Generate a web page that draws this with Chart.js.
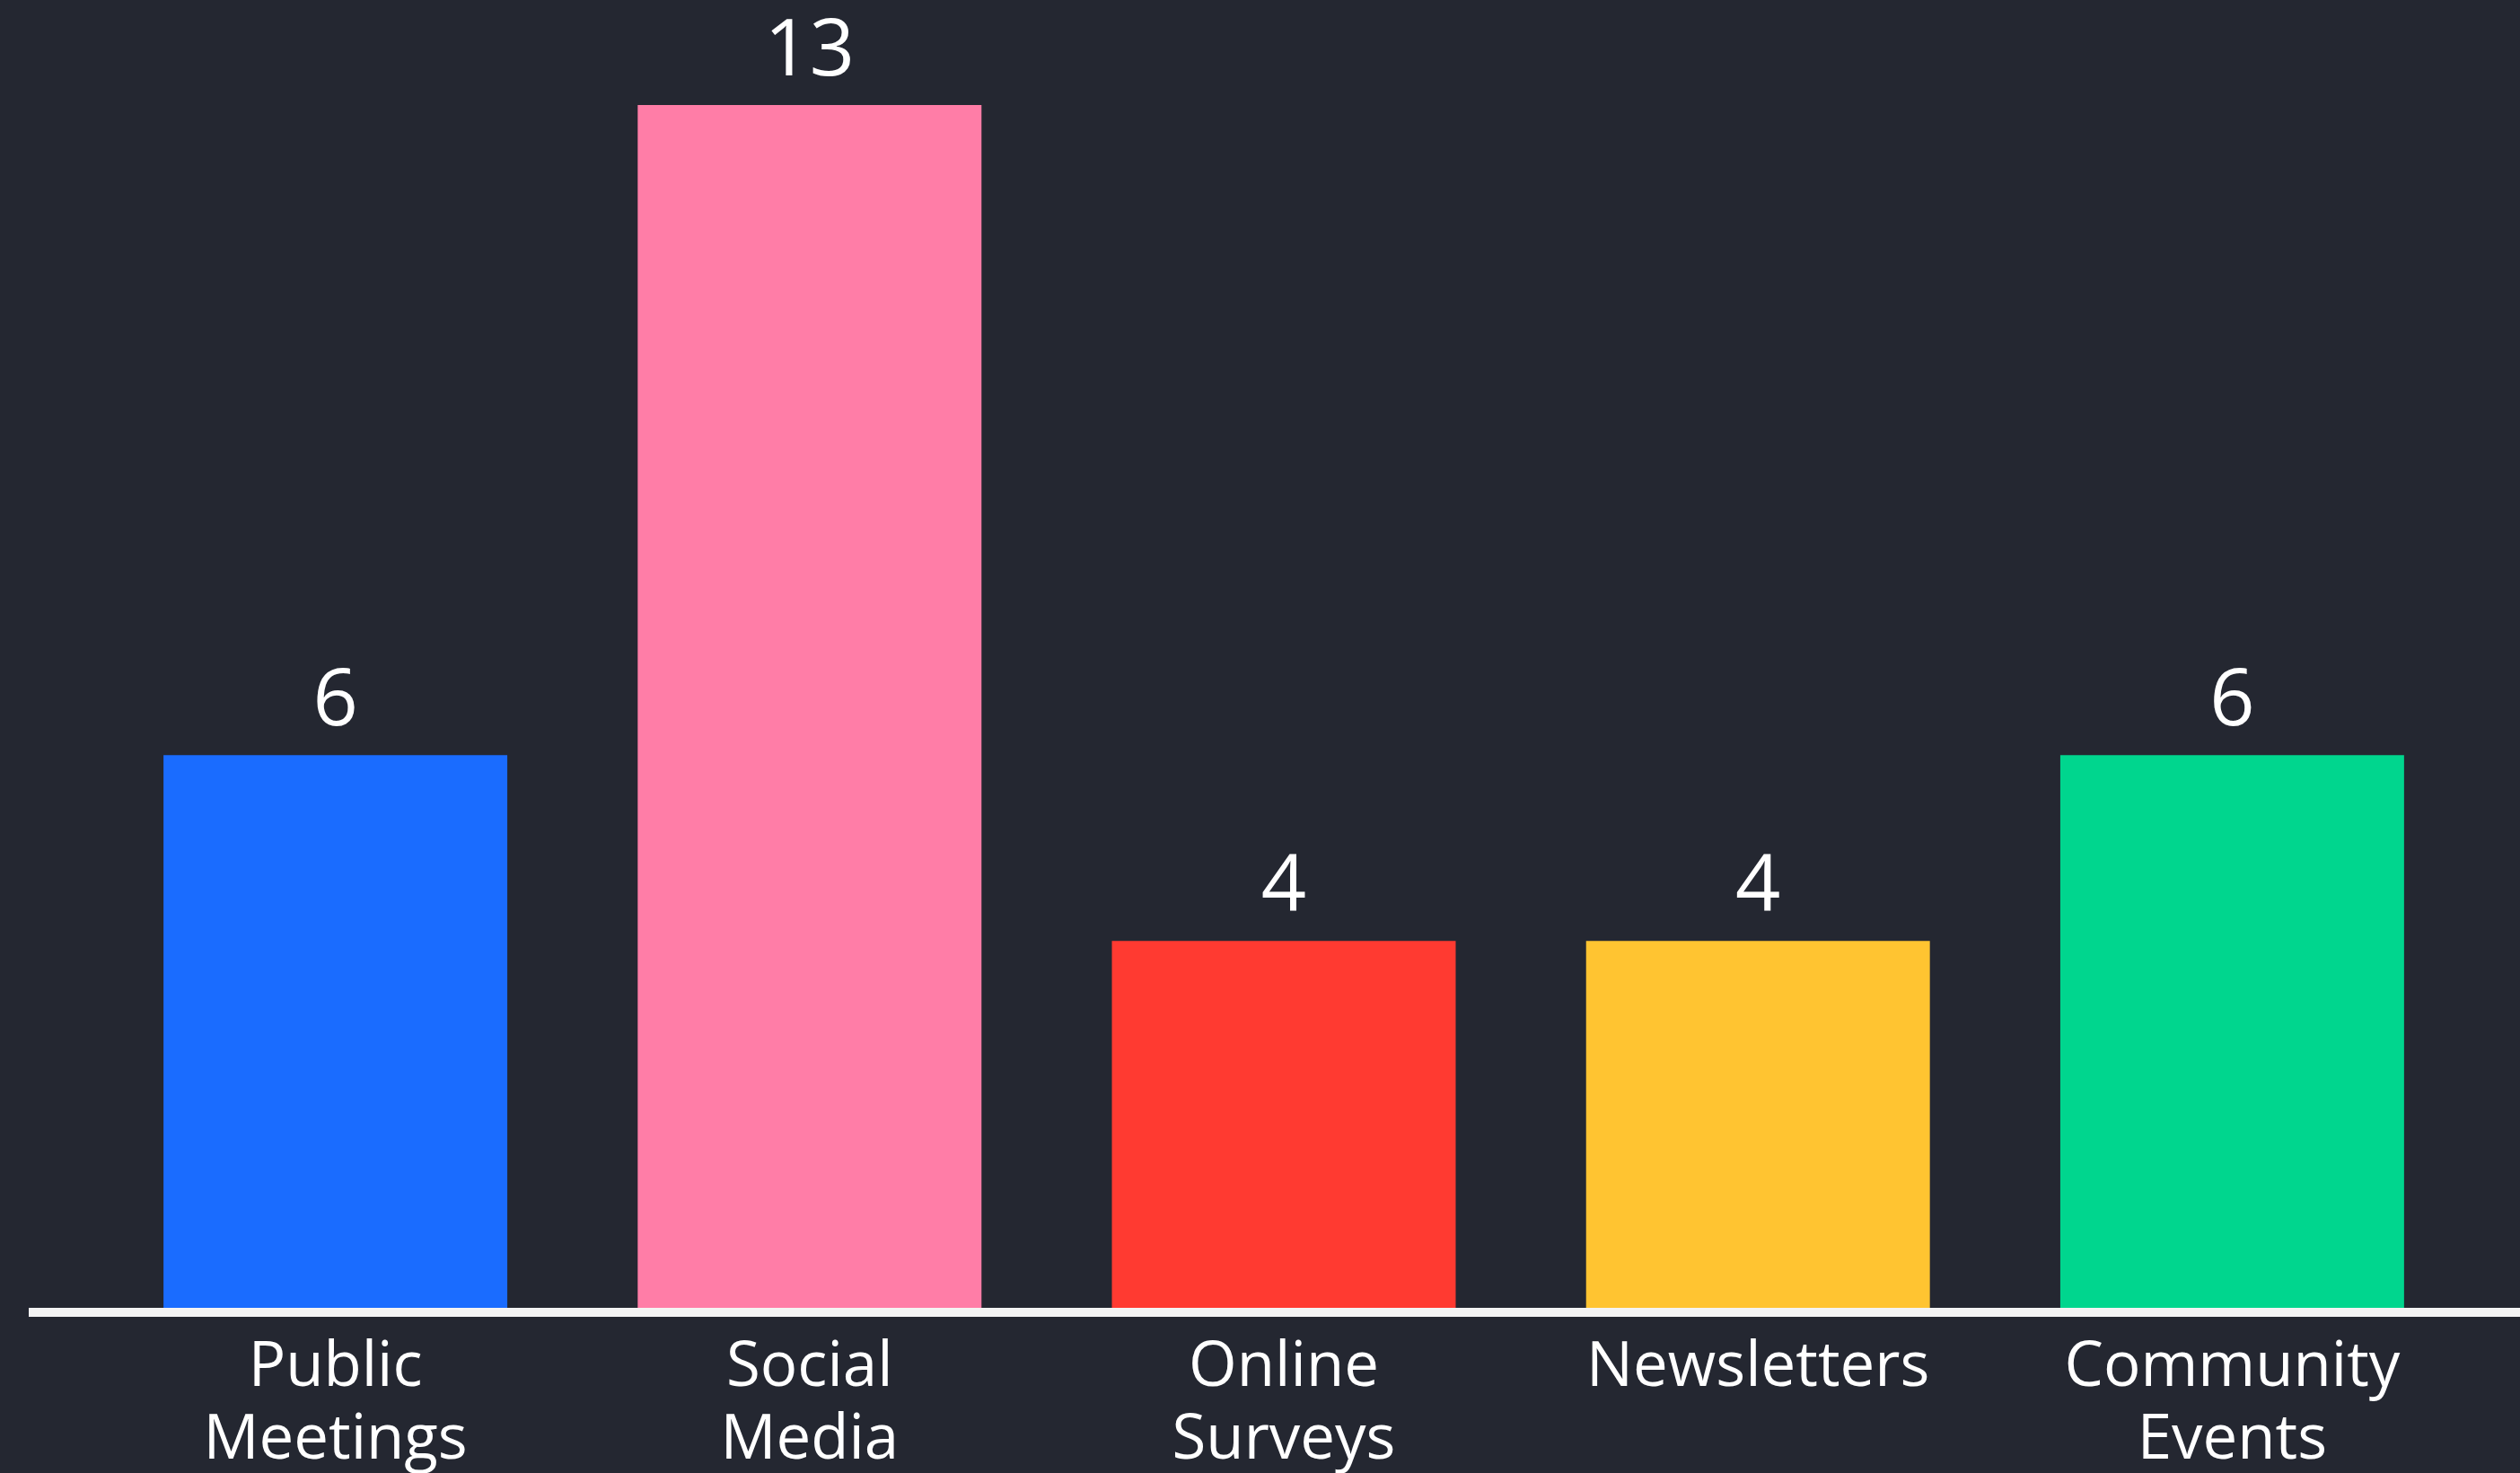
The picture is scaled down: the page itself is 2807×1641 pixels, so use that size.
<!DOCTYPE html>
<html>
<head>
<meta charset="utf-8">
<script src="https://cdn.jsdelivr.net/npm/chart.js@4/dist/chart.umd.min.js"></script>
<style>
  html, body { margin: 0; padding: 0; background: #242731; }
  #wrap { width: 2807px; height: 1641px; }
  canvas { display: block; }
</style>
</head>
<body>
<div id="wrap"><canvas id="c" width="2807" height="1641"></canvas></div>
<script>
const categories = [['Public', 'Meetings'], ['Social', 'Media'], ['Online', 'Surveys'], 'Newsletters', ['Community', 'Events']];
const values = [6, 13, 4, 4, 6];
const barColors = ['#1a6cff', '#ff7da7', '#ff3a31', '#ffc431', '#00d68e'];

const BG = '#242731';
const TEXT = '#ffffff';

const bgPlugin = {
  id: 'bg',
  beforeDraw(chart) {
    const ctx = chart.ctx;
    ctx.save();
    ctx.fillStyle = BG;
    ctx.fillRect(0, 0, chart.width, chart.height);
    ctx.restore();
  }
};

const baselinePlugin = {
  id: 'baseline',
  afterDatasetsDraw(chart) {
    const ctx = chart.ctx;
    const y = chart.scales.y.getPixelForValue(0);
    ctx.save();
    ctx.strokeStyle = '#f4f4f4';
    ctx.lineWidth = 10;
    ctx.beginPath();
    ctx.moveTo(32, y);
    ctx.lineTo(chart.width, y);
    ctx.stroke();
    ctx.restore();
  }
};

const valueLabelPlugin = {
  id: 'valueLabels',
  afterDatasetsDraw(chart) {
    const ctx = chart.ctx;
    const meta = chart.getDatasetMeta(0);
    ctx.save();
    ctx.fillStyle = TEXT;
    ctx.font = '400 88px "Open Sans"';
    ctx.textAlign = 'center';
    ctx.textBaseline = 'alphabetic';
    meta.data.forEach((bar, i) => {
      ctx.fillText(String(values[i]), bar.x, bar.y - 33);
    });
    ctx.restore();
  }
};

new Chart(document.getElementById('c'), {
  type: 'bar',
  data: {
    labels: categories,
    datasets: [{
      data: values,
      backgroundColor: barColors,
      borderWidth: 0,
      categoryPercentage: 1.0,
      barPercentage: 0.725
    }]
  },
  options: {
    responsive: false,
    devicePixelRatio: 1,
    animation: false,
    layout: { padding: { top: 117, left: 109.5, right: 56.5, bottom: 0 } },
    plugins: { legend: { display: false }, tooltip: { enabled: false } },
    scales: {
      y: {
        display: false,
        min: 0,
        max: 13
      },
      x: {
        grid: { display: false },
        border: { display: false },
        ticks: {
          color: TEXT,
          font: { family: '"Open Sans"', size: 69, weight: '400', lineHeight: 1.17 },
          padding: 14,
          maxRotation: 0,
          autoSkip: false
        },
        afterFit(scale) { scale.height = 179; }
      }
    }
  },
  plugins: [bgPlugin, baselinePlugin, valueLabelPlugin]
});
</script>
</body>
</html>
